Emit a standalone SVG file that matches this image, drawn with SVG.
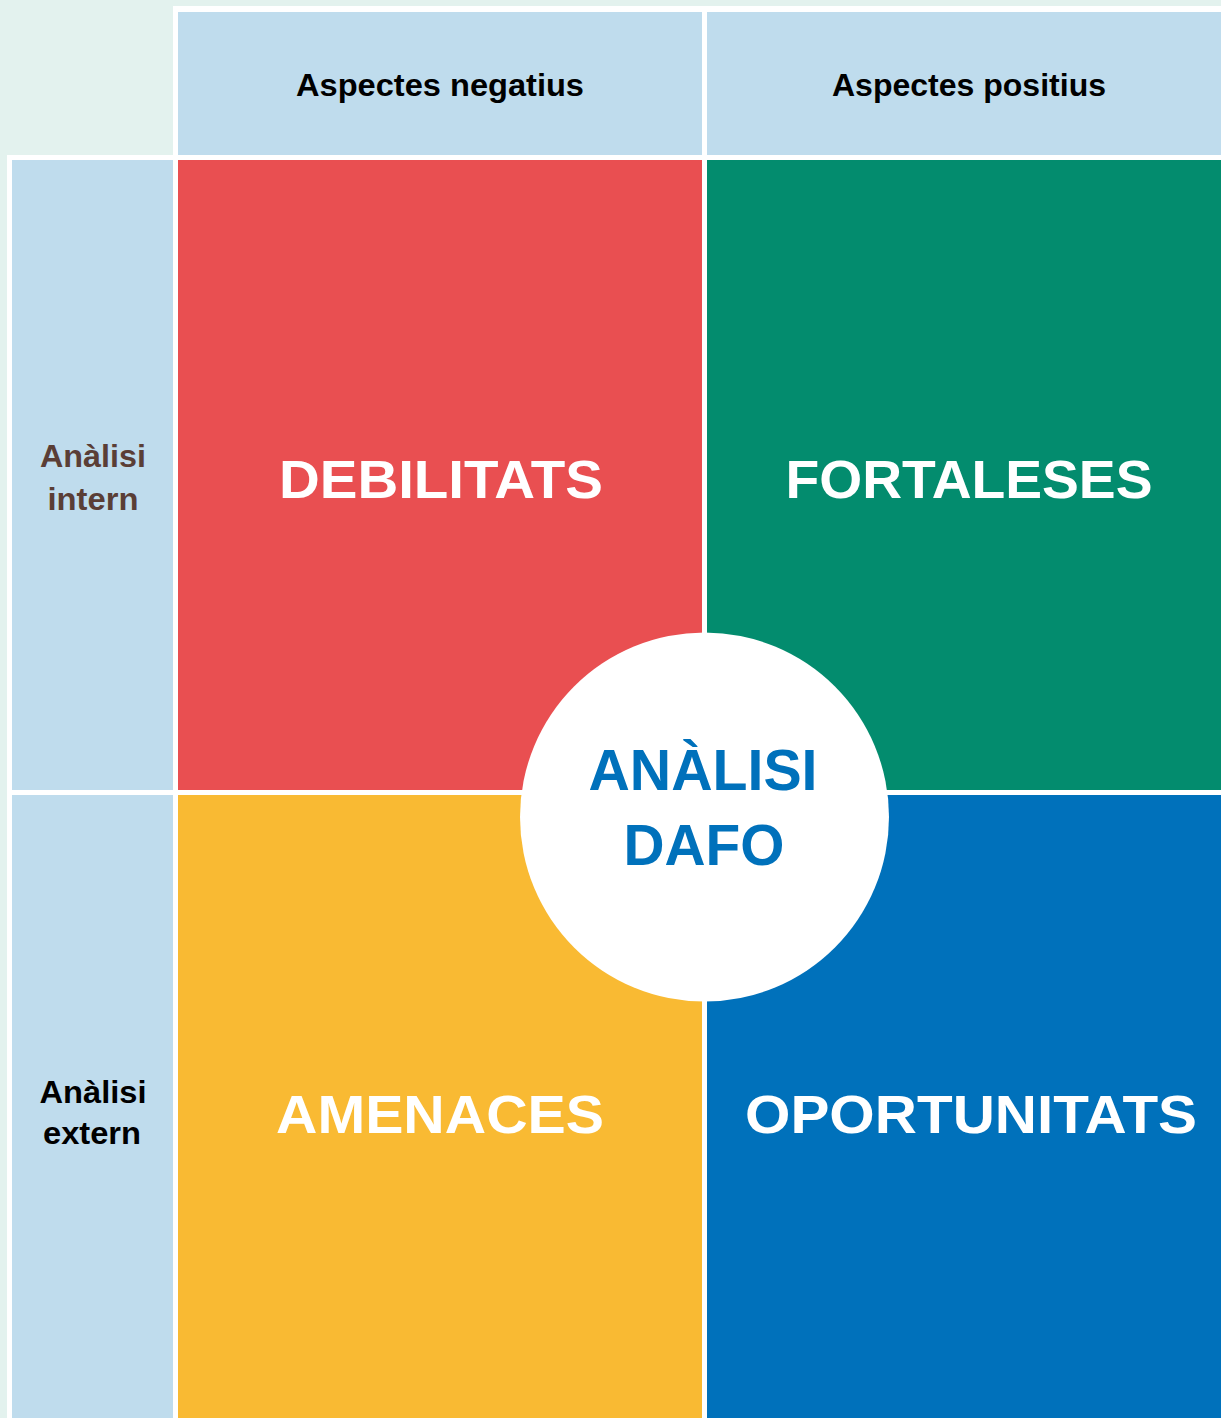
<svg xmlns="http://www.w3.org/2000/svg" width="1221" height="1418" viewBox="0 0 1221 1418">
<style>
.hdr{fill:#BFDCED}
.t{font-family:"Liberation Sans",Arial,sans-serif;font-weight:bold;text-anchor:middle}
.h{font-size:31px;fill:#000}
.q{font-size:53px;fill:#fff}
.c{font-size:58px;fill:#0071BB}
.s{font-size:31px}
</style>
<rect x="0" y="0" width="1221" height="1418" fill="#E3F2EE"/>
<g id="frame">
<rect x="173" y="6" width="1048" height="1412" fill="#fff"/>
<rect x="7" y="155" width="171" height="1263" fill="#fff"/>
</g>
<g id="header-negatius">
<rect class="hdr" x="178" y="12" width="524" height="143"/>
<text class="t h" x="440" y="96" textLength="288" lengthAdjust="spacingAndGlyphs">Aspectes negatius</text>
</g>
<g id="header-positius">
<rect class="hdr" x="707" y="12" width="514" height="143"/>
<text class="t h" x="969" y="96" textLength="274" lengthAdjust="spacingAndGlyphs">Aspectes positius</text>
</g>
<g id="row-intern">
<rect class="hdr" x="12" y="160" width="161" height="630"/>
<text class="t s" x="93" y="467" fill="#5A3E36" textLength="106" lengthAdjust="spacingAndGlyphs">Anàlisi</text>
<text class="t s" x="93" y="510" fill="#5A3E36" textLength="91" lengthAdjust="spacingAndGlyphs">intern</text>
</g>
<g id="row-extern">
<rect class="hdr" x="12" y="795" width="161" height="623"/>
<text class="t s" x="93" y="1103" fill="#000" textLength="107" lengthAdjust="spacingAndGlyphs">Anàlisi</text>
<text class="t s" x="92" y="1144" fill="#000" textLength="98" lengthAdjust="spacingAndGlyphs">extern</text>
</g>
<g id="debilitats">
<rect x="178" y="160" width="524" height="630" fill="#E94F51"/>
<text class="t q" x="441" y="498" textLength="324" lengthAdjust="spacingAndGlyphs">DEBILITATS</text>
</g>
<g id="fortaleses">
<rect x="707" y="160" width="514" height="630" fill="#038C6E"/>
<text class="t q" x="969" y="498" textLength="367" lengthAdjust="spacingAndGlyphs">FORTALESES</text>
</g>
<g id="amenaces">
<rect x="178" y="795" width="524" height="623" fill="#F9BA33"/>
<text class="t q" x="440" y="1133" textLength="328" lengthAdjust="spacingAndGlyphs">AMENACES</text>
</g>
<g id="oportunitats">
<rect x="707" y="795" width="514" height="623" fill="#0071BB"/>
<text class="t q" x="971" y="1133" textLength="452" lengthAdjust="spacingAndGlyphs">OPORTUNITATS</text>
</g>
<g id="analisi-dafo">
<circle cx="704.5" cy="817" r="184.5" fill="#fff"/>
<text class="t c" x="703" y="790" textLength="229" lengthAdjust="spacingAndGlyphs">ANÀLISI</text>
<text class="t c" x="704" y="865" textLength="161" lengthAdjust="spacingAndGlyphs">DAFO</text>
</g>
<g id="connectors"></g>
</svg>
